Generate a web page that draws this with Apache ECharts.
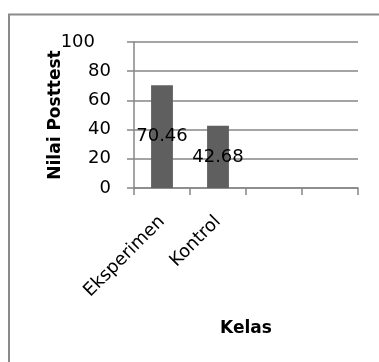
<!DOCTYPE html>
<html>
<head>
<meta charset="utf-8">
<script src="https://cdn.jsdelivr.net/npm/echarts@6/dist/echarts.min.js"></script>
<style>
html,body{margin:0;padding:0;background:#fff;}
#chart{width:379px;height:362px;}
</style>
</head>
<body>
<div id="chart"></div>
<script>
const categories = ['Eksperimen', 'Kontrol', '', ''];
const posttestValues = [70.46, 42.68, null, null];
const yTicks = [0, 20, 40, 60, 80, 100];

const FONT = '"DejaVu Sans", sans-serif';
const chart = echarts.init(document.getElementById('chart'), null, {renderer: 'canvas'});
chart.setOption({
  animation: false,
  backgroundColor: '#fff',
  graphic: [{
    type: 'rect',
    shape: {x: 9, y: 14.5, width: 420, height: 420},
    style: {fill: 'none', stroke: '#8a8a8a', lineWidth: 2},
    silent: true
  }],
  grid: {left: 134, right: 21, top: 42, bottom: 174, containLabel: false},
  xAxis: {
    type: 'category',
    data: categories,
    name: 'Kelas',
    nameLocation: 'middle',
    nameGap: 132,
    nameMoveOverlap: false,
    nameTextStyle: {fontFamily: FONT, fontWeight: 'bold', fontSize: 17, color: '#000'},
    axisLine: {show: true, lineStyle: {color: '#868686', width: 1.5}},
    axisTick: {show: true, length: 7, lineStyle: {color: '#868686', width: 1.5}},
    axisLabel: {rotate: 45, fontFamily: FONT, fontSize: 18, color: '#000', margin: 31, interval: 0},
    splitLine: {show: false}
  },
  yAxis: {
    type: 'value',
    min: yTicks[0],
    max: yTicks[yTicks.length - 1],
    interval: yTicks[1] - yTicks[0],
    name: 'Nilai Posttest',
    nameLocation: 'middle',
    nameGap: 70,
    nameRotate: 90,
    nameMoveOverlap: false,
    nameTextStyle: {fontFamily: FONT, fontWeight: 'bold', fontSize: 17, color: '#000'},
    axisLine: {show: true, lineStyle: {color: '#868686', width: 1.5}},
    axisTick: {show: true, length: 7, lineStyle: {color: '#868686', width: 1.5}},
    axisLabel: {
      fontFamily: FONT, fontSize: 18, color: '#000', margin: 23,
      formatter: v => v === yTicks[yTicks.length - 1] ? '{m|' + v + '}' : String(v),
      rich: {m: {fontFamily: FONT, fontSize: 18, color: '#000', padding: [0, 16, 0, 0]}}
    },
    splitLine: {show: true, lineStyle: {color: '#868686', width: 1.5}}
  },
  series: [{
    type: 'bar',
    data: posttestValues,
    barWidth: '39%',
    itemStyle: {color: '#5f5f5f'},
    label: {
      show: true,
      position: 'inside',
      fontFamily: FONT,
      fontSize: 18,
      color: '#000',
      formatter: p => p.value == null ? '' : p.value.toFixed(2)
    }
  }]
});
</script>
</body>
</html>
